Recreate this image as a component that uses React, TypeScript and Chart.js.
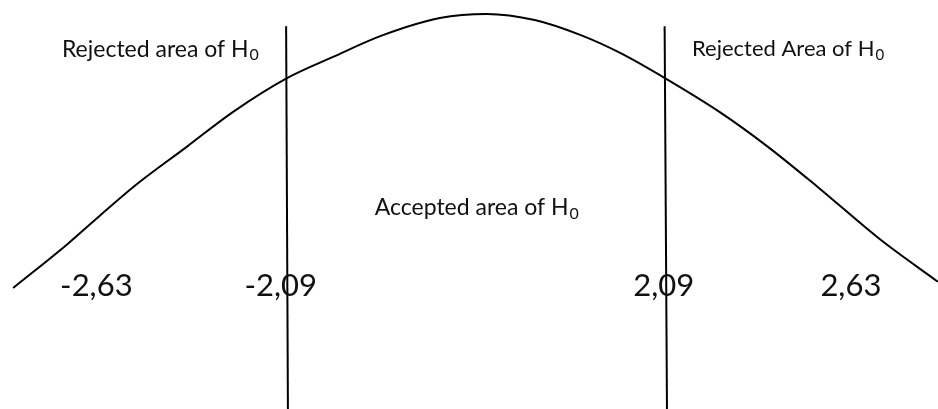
import React, { useEffect, useRef } from "react";
import { Chart, registerables } from "chart.js";

Chart.register(...registerables);

// Bell curve (x in z-units, y in relative height)
const curveX = [-5.12, -4.52, -4.19, -3.79, -3.2, -2.69, -2.09, -1.58, -1.03, -0.4, 0.12, 0.65, 1.16, 1.6, 2.09, 2.71, 3.23, 3.78, 4.48, 5.11];
const curveY = [0.296, 0.403, 0.467, 0.543, 0.641, 0.726, 0.809, 0.861, 0.914, 0.956, 0.966, 0.951, 0.914, 0.87, 0.809, 0.724, 0.641, 0.543, 0.413, 0.311];

// Critical value lines
const leftLineX = [-2.1, -2.08];
const rightLineX = [2.087, 2.113];
const lineY = [0.936, 0];

// Region labels (each ends with subscript 0)
const regionLabels = ["Rejected area of H", "Rejected Area of H", "Accepted area of H"];
const regionSub = ["0", "0", "0"];
const regionSize = [23, 22, 23];
const regionX = [-4.58, 2.39, -1.12];
const regionY = [0.861, 0.863, 0.474];

// Critical value tick labels
const criticalLabels = ["-2,63", "-2,09", "2,09", "2,63"];
const criticalX = [-4.6, -2.56, 1.74, 3.81];
const criticalY = [0.276, 0.276, 0.276, 0.276];

const FONT = "Lato, 'Open Sans', sans-serif";

const textPlugin = {
  id: "textLabels",
  afterDatasetsDraw(chart: any) {
    const ctx = chart.ctx;
    const xs = chart.scales.x;
    const ys = chart.scales.y;
    ctx.save();
    ctx.fillStyle = "#111";
    ctx.textBaseline = "alphabetic";
    ctx.textAlign = "left";
    regionLabels.forEach((t, i) => {
      const px = xs.getPixelForValue(regionX[i]);
      const py = ys.getPixelForValue(regionY[i]);
      const s = regionSize[i];
      ctx.font = `${s}px ${FONT}`;
      ctx.fillText(t, px, py);
      const w = ctx.measureText(t).width;
      ctx.font = `${Math.round(s * 0.68)}px ${FONT}`;
      ctx.fillText(regionSub[i], px + w + 1, py + 3.5);
    });
    ctx.font = `31px ${FONT}`;
    criticalLabels.forEach((t, i) => {
      ctx.fillText(t, xs.getPixelForValue(criticalX[i]), ys.getPixelForValue(criticalY[i]));
    });
    ctx.restore();
  },
};

export default function App() {
  const ref = useRef<HTMLCanvasElement>(null);
  useEffect(() => {
    if (!ref.current) return;
    const mk = (xs: number[], ys: number[]) => xs.map((x, i) => ({ x, y: ys[i] }));
    const chart = new Chart(ref.current, {
      type: "line",
      data: {
        datasets: [
          {
            data: mk(curveX, curveY),
            borderColor: "#000",
            borderWidth: 2,
            pointRadius: 0,
            cubicInterpolationMode: "monotone",
            fill: false,
          },
          {
            data: mk(leftLineX, lineY),
            borderColor: "#000",
            borderWidth: 2,
            pointRadius: 0,
            fill: false,
          },
          {
            data: mk(rightLineX, lineY),
            borderColor: "#000",
            borderWidth: 2,
            pointRadius: 0,
            fill: false,
          },
        ],
      },
      options: {
        animation: false,
        responsive: false,
        maintainAspectRatio: false,
        layout: { padding: 0 },
        plugins: { legend: { display: false }, tooltip: { enabled: false } },
        scales: {
          x: { type: "linear", min: -5.265, max: 5.111, display: false },
          y: { type: "linear", min: 0, max: 1, display: false },
        },
      },
      plugins: [textPlugin],
    });
    return () => chart.destroy();
  }, []);
  return (
    <div style={{ position: "absolute", left: 0, top: 0, width: 938, height: 409, background: "#fff" }}>
      <canvas ref={ref} width={938} height={409} style={{ display: "block" }} />
    </div>
  );
}
